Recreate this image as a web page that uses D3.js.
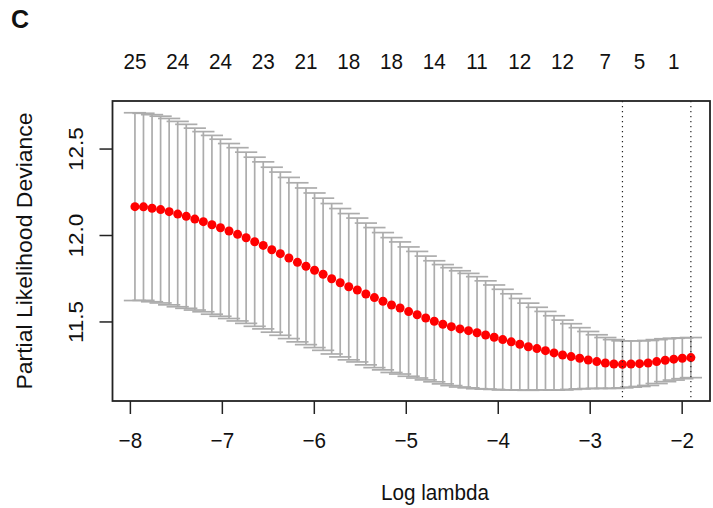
<!DOCTYPE html>
<html>
<head>
<meta charset="utf-8">
<script src="https://cdn.jsdelivr.net/npm/d3@7"></script>
<style>
    body { margin: 0; background: #ffffff; }
    text { font-family: "Liberation Sans", Arial, sans-serif; fill: #111; }
</style>
</head>
<body>
<svg id="chart" width="713" height="508"></svg>
<script>

// log(lambda) for each fit, left to right
var logLambda = [-7.945, -7.852, -7.759, -7.666, -7.573, -7.480, -7.387, -7.294, -7.201, -7.108,
                 -7.015, -6.922, -6.829, -6.736, -6.643, -6.550, -6.457, -6.364, -6.271, -6.178,
                 -6.085, -5.992, -5.899, -5.806, -5.713, -5.620, -5.527, -5.434, -5.341, -5.248,
                 -5.155, -5.062, -4.969, -4.876, -4.783, -4.690, -4.597, -4.504, -4.411, -4.318,
                 -4.225, -4.132, -4.039, -3.946, -3.853, -3.760, -3.667, -3.574, -3.481, -3.388,
                 -3.295, -3.202, -3.109, -3.016, -2.923, -2.830, -2.737, -2.644, -2.551, -2.458,
                 -2.365, -2.272, -2.179, -2.086, -1.993, -1.900];

// mean cross-validated partial likelihood deviance
var cvm = [12.164, 12.163, 12.155, 12.147, 12.135, 12.121, 12.108, 12.092, 12.077, 12.059,
           12.042, 12.023, 12.004, 11.984, 11.961, 11.940, 11.915, 11.892, 11.867, 11.842,
           11.819, 11.796, 11.773, 11.747, 11.724, 11.701, 11.682, 11.659, 11.638, 11.617,
           11.595, 11.578, 11.557, 11.539, 11.520, 11.501, 11.484, 11.470, 11.457, 11.447,
           11.435, 11.422, 11.409, 11.395, 11.382, 11.368, 11.354, 11.343, 11.331, 11.318,
           11.306, 11.297, 11.287, 11.277, 11.268, 11.260, 11.254, 11.252, 11.254, 11.256,
           11.260, 11.268, 11.276, 11.282, 11.287, 11.291];

// standard error of the above
var cvsd = [0.543, 0.541, 0.541, 0.540, 0.539, 0.536, 0.532, 0.526, 0.521, 0.517,
            0.512, 0.506, 0.501, 0.495, 0.489, 0.483, 0.477, 0.472, 0.466, 0.460,
            0.453, 0.447, 0.440, 0.435, 0.429, 0.423, 0.416, 0.410, 0.405, 0.397,
            0.390, 0.382, 0.374, 0.366, 0.358, 0.350, 0.345, 0.341, 0.336, 0.331,
            0.324, 0.313, 0.302, 0.291, 0.278, 0.265, 0.252, 0.239, 0.227, 0.215,
            0.202, 0.190, 0.177, 0.165, 0.155, 0.147, 0.141, 0.136, 0.134, 0.132,
            0.130, 0.127, 0.124, 0.121, 0.118, 0.116];

// number of nonzero coefficients shown on top
var topLabelX = [-7.945, -7.480, -7.015, -6.550, -6.085, -5.620, -5.155, -4.690, -4.225, -3.760, -3.295, -2.830, -2.458, -2.086];
var topLabels = ["25", "24", "24", "23", "21", "18", "18", "14", "11", "12", "12", "7", "5", "1"];

var xTicks = [-8, -7, -6, -5, -4, -3, -2];
var yTicks = [11.5, 12.0, 12.5];

var lambdaMin = -2.644;
var lambda1se = -1.900;

// the source picture is a little squeezed sideways, so text is too
var squeeze = 0.92;

class CvPlot
{
    constructor(svgId)
    {
        this.svg = d3.select(svgId);

        this.box = {left: 112.5, right: 710, top: 101, bottom: 401};

        this.x = d3.scaleLinear().domain([-8.189, -1.692]).range([this.box.left, this.box.right]);
        this.y = d3.scaleLinear().domain([11.04, 12.775]).range([this.box.bottom, this.box.top]);

        this.data = logLambda.map((v, i) => ({x: v, m: cvm[i], up: cvm[i] + cvsd[i], lo: cvm[i] - cvsd[i]}));
    }

    draw()
    {
        this._drawErrorBars();
        this._drawPoints();
        this._drawRefLines();
        this._drawAxes();
        this._drawLabels();
    }

    _drawErrorBars()
    {
        var self = this;
        var barw = (d3.max(logLambda) - d3.min(logLambda)) * 0.02;

        var g = this.svg.append("g").attr("stroke", "#acacac").attr("stroke-width", 1.7).attr("fill", "none");

        g.selectAll(".bar").data(this.data).enter().append("line").classed("bar", true)
            .attr("x1", d => self.x(d.x)).attr("x2", d => self.x(d.x))
            .attr("y1", d => self.y(d.up)).attr("y2", d => self.y(d.lo));

        g.selectAll(".capUp").data(this.data).enter().append("line").classed("capUp", true)
            .attr("x1", d => self.x(d.x - barw)).attr("x2", d => self.x(d.x + barw))
            .attr("y1", d => self.y(d.up)).attr("y2", d => self.y(d.up));

        g.selectAll(".capLo").data(this.data).enter().append("line").classed("capLo", true)
            .attr("x1", d => self.x(d.x - barw)).attr("x2", d => self.x(d.x + barw))
            .attr("y1", d => self.y(d.lo)).attr("y2", d => self.y(d.lo));
    }

    _drawPoints()
    {
        this.svg.append("g").selectAll("circle").data(this.data).enter().append("circle")
            .attr("cx", d => this.x(d.x))
            .attr("cy", d => this.y(d.m))
            .attr("r", 4.5)
            .attr("fill", "#ff0000");
    }

    _drawRefLines()
    {
        this.svg.append("g").selectAll("line").data([lambdaMin, lambda1se]).enter().append("line")
            .attr("x1", d => this.x(d)).attr("x2", d => this.x(d))
            .attr("y1", this.box.top).attr("y2", this.box.bottom)
            .attr("stroke", "#222").attr("stroke-width", 1.2)
            .attr("stroke-dasharray", "1.3,3.7");
    }

    _drawAxes()
    {
        var b = this.box;

        var xAxis = d3.axisBottom(this.x).tickValues(xTicks).tickSize(13).tickPadding(18).tickFormat(d3.format("d"));
        var gx = this.svg.append("g").attr("transform", "translate(0," + b.bottom + ")").call(xAxis);
        gx.select(".domain").remove();
        gx.selectAll(".tick line").attr("stroke", "#222").attr("stroke-width", 1.5);
        gx.selectAll("text").attr("font-size", 22.5).attr("fill", "#111")
            .attr("font-family", "'Liberation Sans', Arial, sans-serif")
            .attr("transform", "scale(" + squeeze + ",1)");

        var yAxis = d3.axisLeft(this.y).tickValues(yTicks).tickSize(13).tickFormat(d3.format(".1f"));
        var gy = this.svg.append("g").attr("transform", "translate(" + b.left + ",0)").call(yAxis);
        gy.select(".domain").remove();
        gy.selectAll(".tick line").attr("stroke", "#222").attr("stroke-width", 1.5);
        gy.selectAll("text")
            .attr("font-size", 22.5).attr("fill", "#111")
            .attr("font-family", "'Liberation Sans', Arial, sans-serif")
            .attr("x", null).attr("dy", null)
            .attr("text-anchor", "middle")
            .attr("transform", "translate(-30,0) rotate(-90) scale(1," + squeeze + ")");

        // frame round the plot region
        this.svg.append("rect")
            .attr("x", b.left).attr("y", b.top)
            .attr("width", b.right - b.left).attr("height", b.bottom - b.top)
            .attr("fill", "none").attr("stroke", "#222").attr("stroke-width", 1.8);
    }

    _drawLabels()
    {
        var b = this.box;

        this.svg.append("g").selectAll("text").data(topLabelX).enter().append("text")
            .attr("transform", d => "translate(" + this.x(d) + ",69) scale(" + squeeze + ",1)")
            .attr("text-anchor", "middle")
            .attr("font-size", 22.5)
            .text((d, i) => topLabels[i]);

        this.svg.append("text")
            .attr("transform", "translate(435,500) scale(" + squeeze + ",1)")
            .attr("text-anchor", "middle").attr("font-size", 22.5)
            .text("Log lambda");

        this.svg.append("text")
            .attr("transform", "translate(32," + (b.top + b.bottom) / 2 + ") rotate(-90) scale(1," + squeeze + ")")
            .attr("text-anchor", "middle").attr("font-size", 23)
            .text("Partial Likelihood Deviance");

        this.svg.append("text")
            .attr("x", 11).attr("y", 28)
            .attr("font-size", 25).attr("font-weight", "bold")
            .text("C");
    }
}

var plot = new CvPlot("#chart");
plot.draw();

</script>
</body>
</html>
